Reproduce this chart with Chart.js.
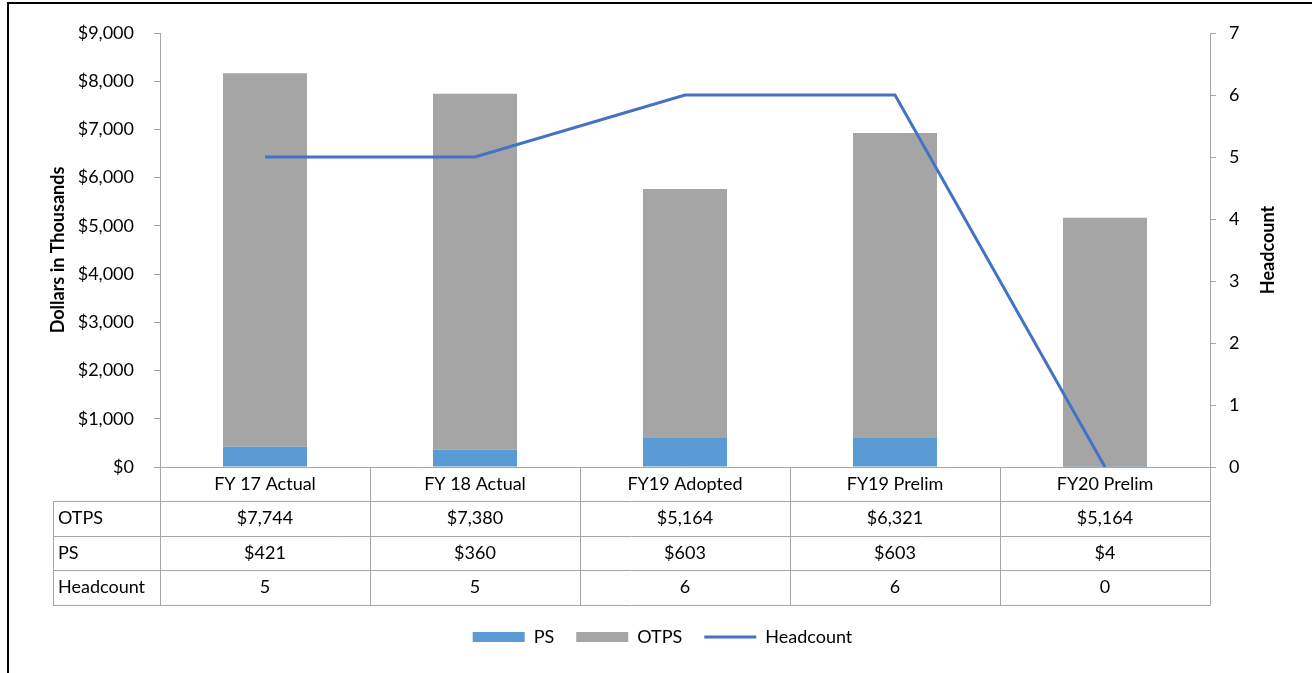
<!DOCTYPE html>
<html>
<head>
<meta charset="utf-8">
<script src="https://cdn.jsdelivr.net/npm/chart.js@4/dist/chart.umd.min.js"></script>
<style>
    html, body { margin: 0; padding: 0; background: #fff; overflow: hidden; }
    #wrap { position: relative; width: 1312px; height: 673px; }
    #chart { position: absolute; left: 0; top: 0; }
    #frame { position: absolute; left: 7px; top: 2px; width: 1400px; height: 800px; border: 2px solid #000; pointer-events: none; }
</style>
</head>
<body>
<div id="wrap">
    <canvas id="chart" width="1312" height="673"></canvas>
    <div id="frame"></div>
</div>
<script>
"use strict";

// chart data
var categories = ["FY 17 Actual", "FY 18 Actual", "FY19 Adopted", "FY19 Prelim", "FY20 Prelim"];
var psValues = [421, 360, 603, 603, 4];
var otpsValues = [7744, 7380, 5164, 6321, 5164];
var headcountValues = [5, 5, 6, 6, 0];
var tableRowNames = ["OTPS", "PS", "Headcount"];

var fontFamily = "Lato, 'Liberation Sans', sans-serif";
var fontSize = 18;
var axisColor = "#a6a6a6";

function dollars(v) {
    return "$" + v.toLocaleString("en-US");
}

/**
 * Draws the data table under the x axis and the right axis title.
 */
var dataTablePlugin = {
    id: "dataTable",
    afterDraw: function (chart) {
        var ctx = chart.ctx;
        var area = chart.chartArea;
        var x = chart.scales.x;
        var step = x.getPixelForValue(1) - x.getPixelForValue(0);
        var headerHeight = 34;
        var rowHeight = 34.5;
        var labelWidth = 107;
        var rows = [
            otpsValues.map(dollars),
            psValues.map(dollars),
            headcountValues.map(String)
        ];
        var tableTop = area.bottom + headerHeight;
        var tableBottom = tableTop + rowHeight * rows.length;
        var crisp = function (v) { return Math.round(v) + 0.5; };

        ctx.save();
        ctx.strokeStyle = axisColor;
        ctx.lineWidth = 1;
        ctx.beginPath();
        for (var r = 0; r <= rows.length; r++) {
            var y = crisp(tableTop + r * rowHeight);
            ctx.moveTo(area.left - labelWidth, y);
            ctx.lineTo(area.right, y);
        }
        ctx.moveTo(crisp(area.left - labelWidth), crisp(tableTop));
        ctx.lineTo(crisp(area.left - labelWidth), crisp(tableBottom));
        for (var c = 0; c <= categories.length; c++) {
            var lx = crisp(x.getPixelForValue(c) - step / 2);
            ctx.moveTo(lx, crisp(area.bottom));
            ctx.lineTo(lx, crisp(tableBottom));
        }
        ctx.stroke();

        ctx.fillStyle = "#000";
        ctx.font = fontSize + "px " + fontFamily;
        ctx.textBaseline = "middle";
        rows.forEach(function (row, r) {
            var cy = tableTop + r * rowHeight + rowHeight / 2;
            ctx.textAlign = "left";
            ctx.fillText(tableRowNames[r], area.left - labelWidth + 5, cy);
            ctx.textAlign = "center";
            row.forEach(function (text, i) {
                ctx.fillText(text, x.getPixelForValue(i), cy);
            });
        });

        // right axis title reads bottom to top like the left one
        ctx.translate(1268, (area.top + area.bottom) / 2);
        ctx.rotate(-Math.PI / 2);
        ctx.font = "bold " + fontSize + "px " + fontFamily;
        ctx.textAlign = "center";
        ctx.fillText("Headcount", 0, 0);
        ctx.restore();
    }
};

var config = {
    data: {
        labels: categories,
        datasets: [
            { type: "bar", label: "PS", data: psValues, backgroundColor: "#5b9bd5", stack: "money", yAxisID: "y", order: 1 },
            { type: "bar", label: "OTPS", data: otpsValues, backgroundColor: "#a5a5a5", stack: "money", yAxisID: "y", order: 1 },
            { type: "line", label: "Headcount", data: headcountValues, borderColor: "#4472c4", backgroundColor: "#4472c4", borderWidth: 3, pointRadius: 0, tension: 0, yAxisID: "y1", order: 0 }
        ]
    },
    plugins: [dataTablePlugin],
    options: {
        responsive: false,
        animation: false,
        categoryPercentage: 1,
        barPercentage: 0.4,
        layout: { padding: { left: 43, right: 30, top: 33, bottom: 17 } },
        plugins: {
            tooltip: { enabled: false },
            legend: {
                position: "bottom",
                labels: {
                    color: "#000",
                    font: { family: fontFamily, size: fontSize },
                    usePointStyle: true,
                    pointStyleWidth: 52,
                    boxHeight: 10,
                    padding: 22,
                    sort: function (a, b) { return a.datasetIndex - b.datasetIndex; },
                    generateLabels: function (chart) {
                        var items = Chart.defaults.plugins.legend.labels.generateLabels(chart);
                        items.forEach(function (item) {
                            item.pointStyle = chart.data.datasets[item.datasetIndex].type === "line" ? "line" : "rect";
                        });
                        return items;
                    }
                }
            }
        },
        scales: {
            x: {
                stacked: true,
                grid: { display: false, drawTicks: false },
                border: { color: axisColor },
                ticks: { color: "#000", font: { family: fontFamily, size: fontSize }, padding: 6, maxRotation: 0 },
                afterFit: function (scale) { scale.height = 139; }
            },
            y: {
                stacked: true,
                position: "left",
                min: 0,
                max: 9000,
                grid: { drawOnChartArea: false, tickLength: 6, color: axisColor },
                border: { color: axisColor },
                ticks: {
                    stepSize: 1000,
                    padding: 20,
                    color: "#000",
                    font: { family: fontFamily, size: fontSize },
                    callback: function (v) { return dollars(v); }
                },
                title: { display: true, text: "Dollars in Thousands", color: "#000", font: { family: fontFamily, size: fontSize, weight: "bold" } },
                afterFit: function (scale) { scale.width = 117; }
            },
            y1: {
                position: "right",
                min: 0,
                max: 7,
                grid: { drawOnChartArea: false, tickLength: 6, color: axisColor },
                border: { color: axisColor },
                ticks: { stepSize: 1, padding: 13, color: "#000", font: { family: fontFamily, size: fontSize } },
                afterFit: function (scale) { scale.width = 72; }
            }
        }
    }
};

new Chart(document.getElementById("chart"), config);
</script>
</body>
</html>
